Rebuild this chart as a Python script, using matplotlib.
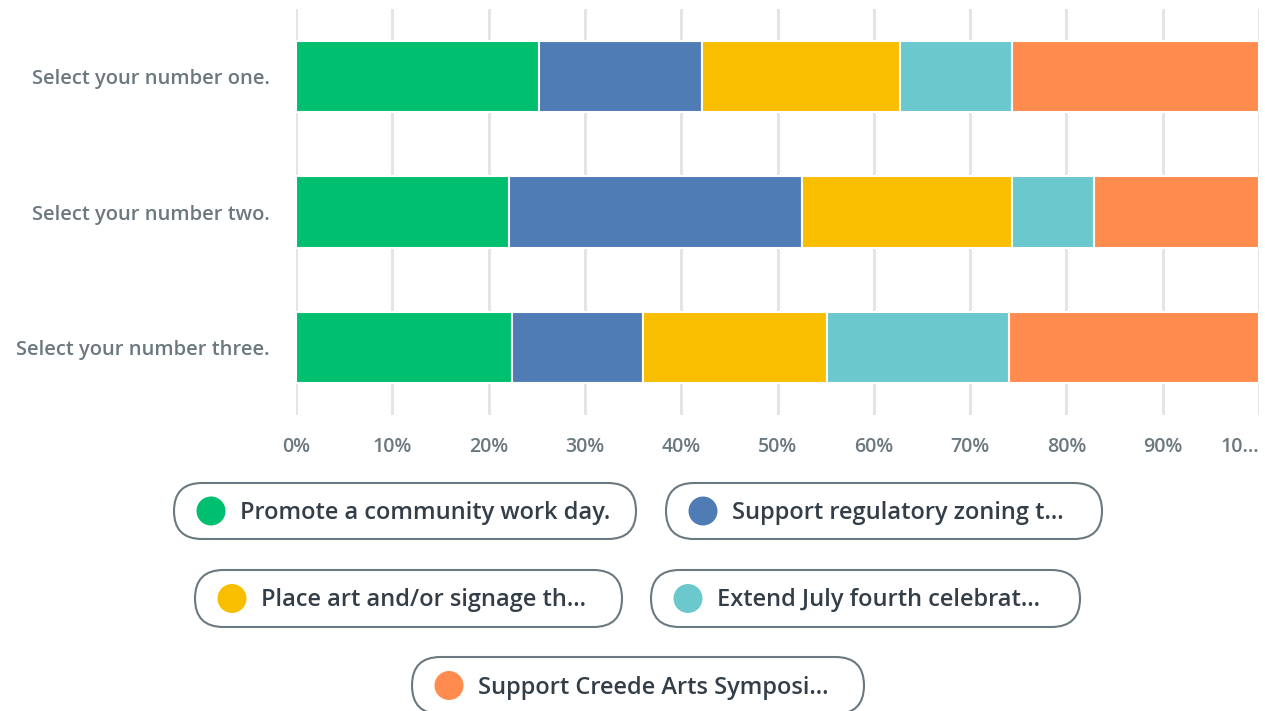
import matplotlib
matplotlib.use("Agg")
import matplotlib.pyplot as plt
from matplotlib.patches import FancyBboxPatch, Circle
import numpy as np

# Survey questions (top to bottom)
questions = ["Select your number one.", "Select your number two.", "Select your number three."]

# Answer options as shown in the legend (truncated like the survey tool does)
options = [
    "Promote a community work day.",
    "Support regulatory zoning t...",
    "Place art and/or signage th...",
    "Extend July fourth celebrat...",
    "Support Creede Arts Symposi...",
]

# Percent of respondents per option, one list per question
promote_work_day = [25.2, 22.1, 22.4]
zoning = [17.0, 30.4, 13.6]
art_signage = [20.5, 21.9, 19.1]
july_fourth = [11.7, 8.5, 18.9]
arts_symposium = [25.6, 17.1, 26.0]
series = [promote_work_day, zoning, art_signage, july_fourth, arts_symposium]

colors = ["#00bf6f", "#507cb6", "#f9be00", "#6bc8cd", "#ff8b4f"]

tick_values = [0, 10, 20, 30, 40, 50, 60, 70, 80, 90, 100]
tick_labels = ["0%", "10%", "20%", "30%", "40%", "50%", "60%", "70%", "80%", "90%", "10..."]

FONT = "Open Sans"
LABEL_GRAY = "#6b787f"
TEXT_DARK = "#333e48"

W, H = 1265, 711
fig = plt.figure(figsize=(W / 100, H / 100), dpi=100)


def fx(px):
    return px / W


def fy(py):
    return 1 - py / H


ax = fig.add_axes([fx(296), fy(415), fx(1259) - fx(296), fy(9) - fy(415)])

y = np.arange(len(questions))
left = np.zeros(len(questions))
for vals, col in zip(series, colors):
    ax.barh(y, vals, left=left, height=0.525, color=col, edgecolor="white",
            linewidth=1.5, zorder=3)
    left += np.array(vals)

ax.set_ylim(len(questions) - 0.5, -0.5)
ax.set_xlim(0, 100)
ax.set_yticks(y)
ax.set_yticklabels(questions, fontsize=14.5, color=LABEL_GRAY, family=FONT,
                   fontweight="semibold")
ax.set_xticks(tick_values)
ax.set_xticklabels(tick_labels, fontsize=14, color=LABEL_GRAY, family=FONT,
                   fontweight="semibold")
last = ax.get_xticklabels()[-1]
last.set_horizontalalignment("right")
last.set_x(98.8)
ax.tick_params(axis="y", length=0, pad=19)
ax.tick_params(axis="x", length=0, pad=16)
ax.grid(axis="x", color="#e3e3e3", linewidth=2, zorder=0)
ax.set_axisbelow(True)
for s in ax.spines.values():
    s.set_visible(False)

# Pill-shaped legend entries (left, top, right, bottom in pixels)
pills = [
    (174, 483, 636, 539),
    (666, 483, 1102, 539),
    (195, 570, 622, 627),
    (651, 570, 1080, 627),
    (412, 657, 864, 714),
]
for (x0, y0, x1, y1), label, col in zip(pills, options, colors):
    h = y1 - y0
    r = h / 2
    box = FancyBboxPatch((x0 + r, H - y1 + r), (x1 - x0) - 2 * r, 0,
                         boxstyle=f"round,pad={r},rounding_size={r}",
                         transform=None, facecolor="white",
                         edgecolor="#6b787f", linewidth=1.5, clip_on=False)
    fig.patches.append(box)
    cy = (y0 + y1) / 2
    dot = Circle((x0 + 37, H - cy), 14.5, transform=None, facecolor=col,
                 edgecolor="none")
    fig.patches.append(dot)
    fig.text(fx(x0 + 66), fy(cy - 1), label, fontsize=17, color=TEXT_DARK,
             family=FONT, fontweight="semibold", ha="left", va="center_baseline")

fig.savefig("out.png", dpi=100, facecolor="white")
